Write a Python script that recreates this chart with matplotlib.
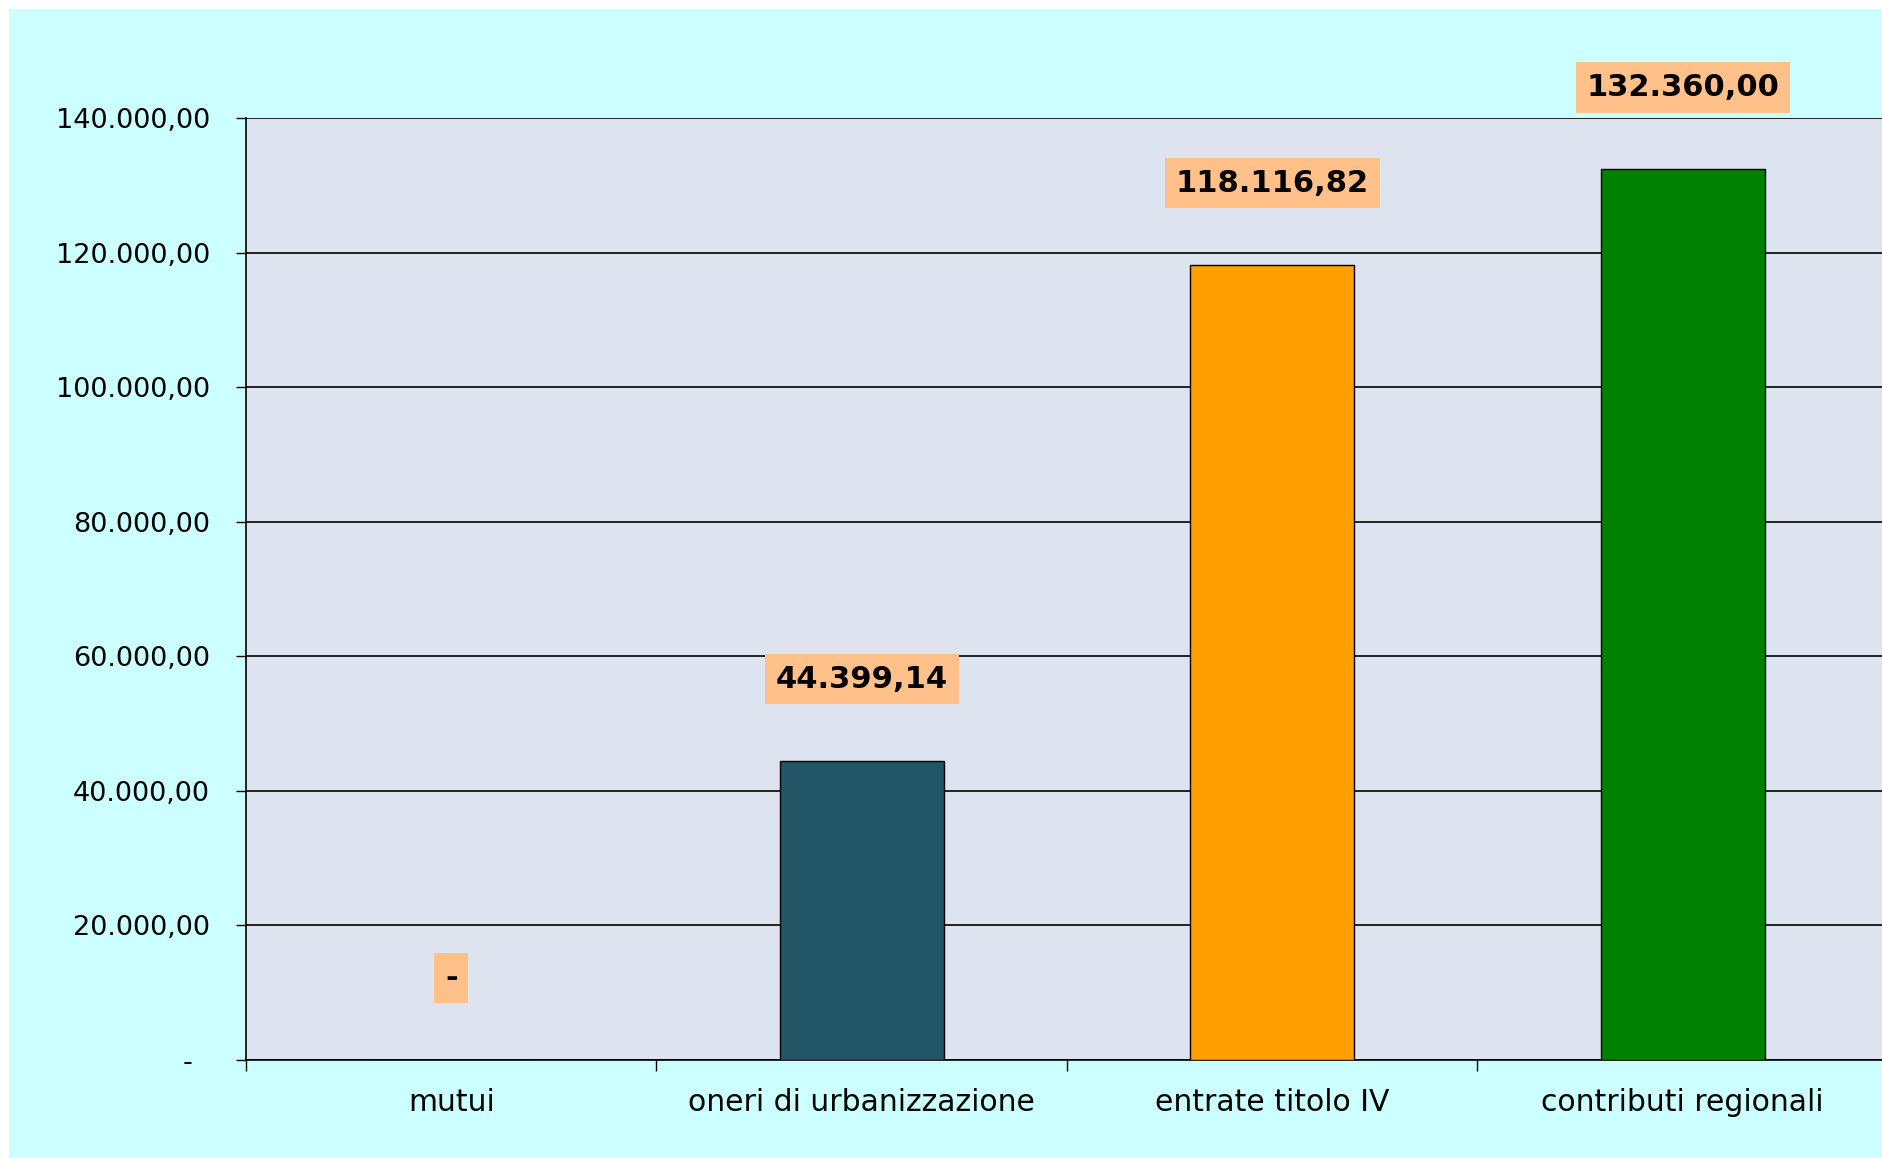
#!/usr/bin/env python3
"""
Bar chart: entrate per investimenti (mutui, oneri, titolo IV, contributi).
"""

import matplotlib.pyplot as plt
from matplotlib.patches import Rectangle
from matplotlib.ticker import FixedLocator, FuncFormatter

categories = ['mutui', 'oneri di urbanizzazione', 'entrate titolo IV', 'contributi regionali']
values = [0.0, 44399.14, 118116.82, 132360.00]
bar_colors = ['#225566', '#225566', '#FF9F00', '#008000']
y_ticks = [0, 20000, 40000, 60000, 80000, 100000, 120000, 140000]


def it_format(v):
    """Italian number format: 132.360,00, zero shown as '-'."""
    if v == 0:
        return '-'
    s = f'{v:,.2f}'
    return s.replace(',', 'X').replace('.', ',').replace('X', '.')


W, H = 1883, 1158
fig = plt.figure(figsize=(W / 100, H / 100), dpi=100, facecolor='white')
fig.patches.append(Rectangle((9 / W, 0), 1, 1 - 9 / H, transform=fig.transFigure,
                             facecolor='#CCFFFF', edgecolor='none', zorder=-10))

left, right, bottom, top = 246 / W, 1888 / W, 1 - 1060 / H, 1 - 118 / H
ax = fig.add_axes([left, bottom, right - left, top - bottom])
ax.set_facecolor('#DDE4F0')

x = list(range(len(categories)))
ax.bar(x, values, width=0.4, color=bar_colors, edgecolor='black', linewidth=1, zorder=3)

# value labels in peach boxes
for xi, v in zip(x, values):
    ax.annotate(it_format(v), (xi, v), xytext=(0, 82), textcoords='offset pixels',
                ha='center', va='center', fontsize=22, fontweight='bold',
                bbox=dict(boxstyle='square,pad=0.35', facecolor='#FFC08A', edgecolor='none'),
                annotation_clip=False, zorder=5)

ax.set_xlim(-0.5, len(categories) - 0.5)
ax.set_ylim(0, 140000)

# y axis
ax.set_yticks(y_ticks)
ax.yaxis.set_major_formatter(FuncFormatter(lambda v, p: it_format(v) if v != 0 else '-  '))
ax.tick_params(axis='y', length=7, width=1, pad=19, labelsize=19.5, direction='out')
ax.grid(axis='y', color='black', linewidth=1.2, zorder=1)

# x axis: ticks between categories, labels at centres
ax.xaxis.set_major_locator(FixedLocator([i - 0.5 for i in range(len(categories) + 1)]))
ax.xaxis.set_major_formatter(FuncFormatter(lambda v, p: ''))
ax.xaxis.set_minor_locator(FixedLocator(x))
ax.set_xticklabels(categories, minor=True)
ax.tick_params(axis='x', which='major', length=8, width=1, direction='out')
ax.tick_params(axis='x', which='minor', length=0, pad=20, labelsize=21.5)

for side in ['top', 'right']:
    ax.spines[side].set_visible(False)
ax.spines['left'].set_linewidth(1.2)
ax.spines['bottom'].set_linewidth(1.2)

plt.savefig('out.png', dpi=100, facecolor=fig.get_facecolor())
